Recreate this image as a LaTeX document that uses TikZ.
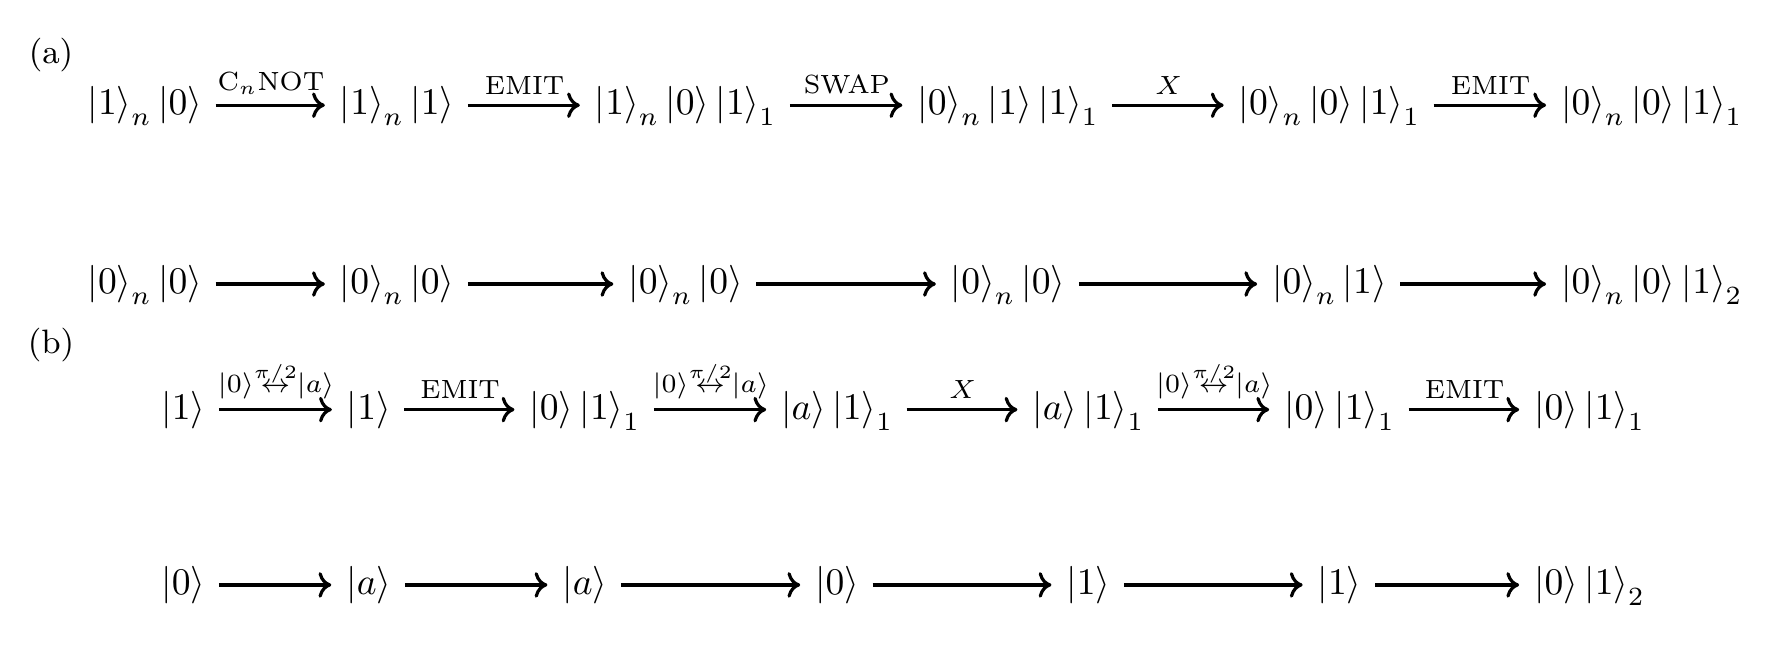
\documentclass[tikz,border=0pt]{standalone}
\usepackage{amsmath}
\usetikzlibrary{arrows.meta}
\newcommand{\kt}[1]{\left|#1\right\rangle}
\newcommand{\rot}{\kt{0}\!{\overset{\raisebox{-0.6pt}[\height][0pt]{$\scriptscriptstyle\pi/2$}}{\leftrightarrow}}\!\kt{a}}
\begin{document}
\begin{tikzpicture}[x=0.266pt,y=-0.266pt,
  st/.style={inner sep=0pt, text height=7.5pt, text depth=2.5pt},
  arr/.style={-{To[length=3.4pt,width=6.8pt]}, line width=0.85pt, shorten <=3.4pt, shorten >=3.8pt},
  lab/.style={font=\scriptsize, above=1.5pt, inner sep=1pt, midway},
  part/.style={font=\small, inner sep=0pt}]
\useasboundingbox (0,0) rectangle (1774,646);
\node[part] (pa) at (51,55) {(a)};
\node[part] (pb) at (51,345) {(b)};
% (a) top row
\node[st] (a1) at (144.8,105.2) {$\kt{1}_n\kt{0}$};
\node[st] (a2) at (397.1,105.2) {$\kt{1}_n\kt{1}$};
\node[st] (a3) at (685.6,105.2) {$\kt{1}_n\kt{0}\kt{1}_1$};
\node[st] (a4) at (1008.1,105.2) {$\kt{0}_n\kt{1}\kt{1}_1$};
\node[st] (a5) at (1329.4,105.2) {$\kt{0}_n\kt{0}\kt{1}_1$};
\node[st] (a6) at (1651.8,105.2) {$\kt{0}_n\kt{0}\kt{1}_1$};
\draw[arr] (a1) -- node[lab] (la1) {$\mathrm{C}_n\mathrm{NOT}$} (a2);
\draw[arr] (a2) -- node[lab] (la2) {EMIT} (a3);
\draw[arr] (a3) -- node[lab] (la3) {SWAP} (a4);
\draw[arr] (a4) -- node[lab] (la4) {$X$} (a5);
\draw[arr] (a5) -- node[lab] (la5) {EMIT} (a6);
% (a) bottom row
\node[st] (c1) at (144.8,284) {$\kt{0}_n\kt{0}$};
\node[st] (c2) at (397.1,284) {$\kt{0}_n\kt{0}$};
\node[st] (c3) at (685.6,284) {$\kt{0}_n\kt{0}$};
\node[st] (c4) at (1008.1,284) {$\kt{0}_n\kt{0}$};
\node[st] (c5) at (1329.4,284) {$\kt{0}_n\kt{1}$};
\node[st] (c6) at (1651.8,284) {$\kt{0}_n\kt{0}\kt{1}_2$};
\draw[arr] (c1) -- (c2);
\draw[arr] (c2) -- (c3);
\draw[arr] (c3) -- (c4);
\draw[arr] (c4) -- (c5);
\draw[arr] (c5) -- (c6);
% (b) top row
\node[st] (b1) at (183.3,409.6) {$\kt{1}$};
\node[st] (b2) at (368.8,409.6) {$\kt{1}$};
\node[st] (b3) at (584.9,409.6) {$\kt{0}\kt{1}_1$};
\node[st] (b4) at (837.2,409.6) {$\kt{a}\kt{1}_1$};
\node[st] (b5) at (1088.4,409.6) {$\kt{a}\kt{1}_1$};
\node[st] (b6) at (1339.6,409.6) {$\kt{0}\kt{1}_1$};
\node[st] (b7) at (1589.6,409.6) {$\kt{0}\kt{1}_1$};
\draw[arr] (b1) -- node[lab] (lb1) {$\rot$} (b2);
\draw[arr] (b2) -- node[lab] (lb2) {EMIT} (b3);
\draw[arr] (b3) -- node[lab] (lb3) {$\rot$} (b4);
\draw[arr] (b4) -- node[lab] (lb4) {$X$} (b5);
\draw[arr] (b5) -- node[lab] (lb5) {$\rot$} (b6);
\draw[arr] (b6) -- node[lab] (lb6) {EMIT} (b7);
% (b) bottom row
\node[st] (d1) at (183.3,584.9) {$\kt{0}$};
\node[st] (d2) at (368.8,584.9) {$\kt{a}$};
\node[st] (d3) at (584.9,584.9) {$\kt{a}$};
\node[st] (d4) at (837.2,584.9) {$\kt{0}$};
\node[st] (d5) at (1088.4,584.9) {$\kt{1}$};
\node[st] (d6) at (1339.6,584.9) {$\kt{1}$};
\node[st] (d7) at (1589.6,584.9) {$\kt{0}\kt{1}_2$};
\draw[arr] (d1) -- (d2);
\draw[arr] (d2) -- (d3);
\draw[arr] (d3) -- (d4);
\draw[arr] (d4) -- (d5);
\draw[arr] (d5) -- (d6);
\draw[arr] (d6) -- (d7);
\end{tikzpicture}
\end{document}
